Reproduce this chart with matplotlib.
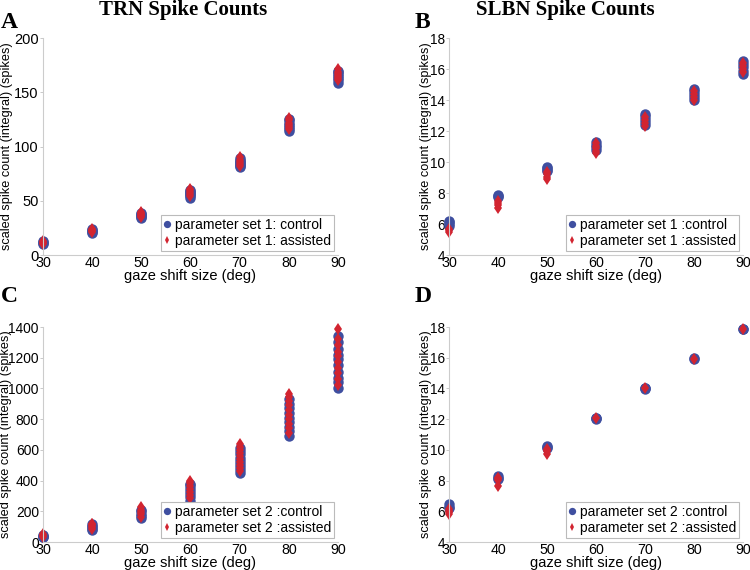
import numpy as np
import matplotlib.pyplot as plt

# gaze shift sizes (deg)
gaze = [30, 40, 50, 60, 70, 80, 90]

# TRN, parameter set 1
A_control = [
    [10, 11, 12, 13],
    [20, 21, 22, 23, 24],
    [34, 35, 36, 37, 38, 39],
    [53, 54, 55, 56, 57, 58, 59, 60],
    [81, 82, 83, 84, 85, 86, 87, 88, 89],
    [114, 116, 118, 120, 122, 124, 125],
    [159, 161, 163, 165, 167, 169, 170],
]
A_assisted = [
    [10, 11, 12, 13],
    [21, 22, 23, 24],
    [35, 36, 37, 38, 39, 40],
    [54, 56, 58, 60, 61],
    [82, 84, 86, 88, 90],
    [116, 118, 120, 122, 124, 126],
    [161, 163, 165, 167, 169, 171],
]

# SLBN, parameter set 1
B_control = [
    [5.9, 6.0, 6.1, 6.2],
    [7.75, 7.8, 7.85],
    [9.4, 9.5, 9.6, 9.65],
    [10.8, 10.95, 11.1, 11.3],
    [12.4, 12.6, 12.8, 13.0, 13.1],
    [14.0, 14.2, 14.4, 14.6, 14.7],
    [15.7, 15.9, 16.1, 16.3, 16.5],
]
B_assisted = [
    [5.5, 5.6, 5.7],
    [7.05, 7.2, 7.35, 7.5],
    [8.9, 9.05, 9.2, 9.35],
    [10.55, 10.7, 10.9, 11.05, 11.2],
    [12.3, 12.5, 12.7, 12.9],
    [14.0, 14.2, 14.4, 14.6],
    [15.8, 16.0, 16.2, 16.4],
]

# TRN, parameter set 2
C_control = [
    [30, 35, 40, 45],
    [75, 85, 95, 105, 115],
    [155, 170, 185, 200, 210],
    [270, 290, 310, 330, 350, 370, 380],
    [450, 470, 490, 510, 530, 550, 570, 590, 610],
    [690, 720, 750, 780, 810, 840, 870, 900, 930],
    [1000, 1040, 1070, 1110, 1150, 1190, 1220, 1260, 1300, 1340],
]
C_assisted = [
    [35, 40, 45, 50],
    [85, 95, 105, 115, 120],
    [165, 180, 195, 210, 225],
    [285, 305, 325, 345, 365, 385, 395],
    [460, 480, 500, 520, 540, 560, 580, 600, 620, 640],
    [710, 740, 770, 800, 830, 860, 890, 920, 945, 965],
    [1020, 1060, 1100, 1130, 1170, 1210, 1240, 1280, 1320, 1385],
]

# SLBN, parameter set 2
D_control = [
    [6.2, 6.3, 6.45],
    [8.1, 8.2, 8.3],
    [10.1, 10.2, 10.25],
    [12.0, 12.05, 12.1],
    [13.95, 14.0, 14.05],
    [15.9, 15.95],
    [17.85, 17.9],
]
D_assisted = [
    [5.85, 5.95, 6.05, 6.15],
    [7.65, 8.05, 8.15, 8.2],
    [9.75, 9.9, 10.0, 10.05],
    [12.05],
    [14.0],
    [15.9],
    [17.85],
]

BLUE = '#3f4fa0'
RED = '#d22430'

plt.rcParams['font.family'] = ['Liberation Sans', 'DejaVu Sans']

fig = plt.figure(figsize=(7.5, 5.7), dpi=100)


def flatten(cols):
    xs = np.repeat(gaze, [len(c) for c in cols])
    ys = np.concatenate([np.asarray(c, dtype=float) for c in cols])
    return xs, ys


def panel(rect, control, assisted, ylim, yticks, labels, ylab_x, ytick_size):
    ax = fig.add_axes(rect)
    xs, ys = flatten(control)
    ax.plot(xs, ys, 'o', color=BLUE, markersize=7.5, markeredgewidth=0,
            clip_on=False, label=labels[0])
    xs, ys = flatten(assisted)
    ax.plot(xs, ys, 'd', color=RED, markersize=6, markeredgewidth=0,
            clip_on=False, label=labels[1])
    ax.set_xlim(30, 90)
    ax.set_ylim(*ylim)
    ax.set_xticks(gaze)
    ax.set_yticks(yticks)
    ax.tick_params(axis='x', length=0, pad=1, labelsize=10.3)
    ax.tick_params(axis='y', length=2, width=0.6, color='#c0c0c0', pad=1,
                   labelsize=ytick_size)
    for s in ['top', 'right']:
        ax.spines[s].set_visible(False)
    for s in ['left', 'bottom']:
        ax.spines[s].set_color('#cccccc')
        ax.spines[s].set_linewidth(0.8)
    ax.set_xlabel('gaze shift size (deg)', fontsize=10.5, labelpad=-1)
    ax.set_ylabel('scaled spike count (integral) (spikes)', fontsize=9.2)
    ax.yaxis.set_label_coords(ylab_x, 0.5)
    leg = ax.legend(loc='lower right', fontsize=10, markerscale=0.7,
                    handlelength=0.5, handletextpad=0.3, borderpad=0.2,
                    labelspacing=0.15, borderaxespad=0.3, fancybox=False,
                    framealpha=1)
    leg.get_frame().set_edgecolor('#bbbbbb')
    leg.get_frame().set_linewidth(0.8)
    return ax


panel([0.0573, 0.5526, 0.3933, 0.3807], A_control, A_assisted, (0, 200),
      [0, 50, 100, 150, 200],
      ['parameter set 1: control', 'parameter set 1: assisted'], -0.102, 10.5)
panel([0.5987, 0.5526, 0.392, 0.3807], B_control, B_assisted, (4, 18),
      [4, 6, 8, 10, 12, 14, 16, 18],
      ['parameter set 1 :control', 'parameter set 1 :assisted'], -0.058, 9.8)
panel([0.0573, 0.0491, 0.3933, 0.3772], C_control, C_assisted, (0, 1400),
      [0, 200, 400, 600, 800, 1000, 1200, 1400],
      ['parameter set 2 :control', 'parameter set 2 :assisted'], -0.105, 9.9)
panel([0.5987, 0.0491, 0.392, 0.3772], D_control, D_assisted, (4, 18),
      [4, 6, 8, 10, 12, 14, 16, 18],
      ['parameter set 2 :control', 'parameter set 2 :assisted'], -0.058, 9.8)

serif = ['Liberation Serif', 'DejaVu Serif']
fig.text(183 / 750, 1 - 10 / 570, 'TRN Spike Counts', ha='center', va='center',
         fontsize=15, fontweight='bold', family=serif)
fig.text(565 / 750, 1 - 10 / 570, 'SLBN Spike Counts', ha='center', va='center',
         fontsize=15, fontweight='bold', family=serif)
for lab, x, y in [('A', 1, 22), ('B', 415, 22), ('C', 1, 297), ('D', 415, 297)]:
    fig.text(x / 750, 1 - y / 570, lab, ha='left', va='center',
             fontsize=17, fontweight='bold', family=serif)

fig.savefig('out.png', dpi=100)
